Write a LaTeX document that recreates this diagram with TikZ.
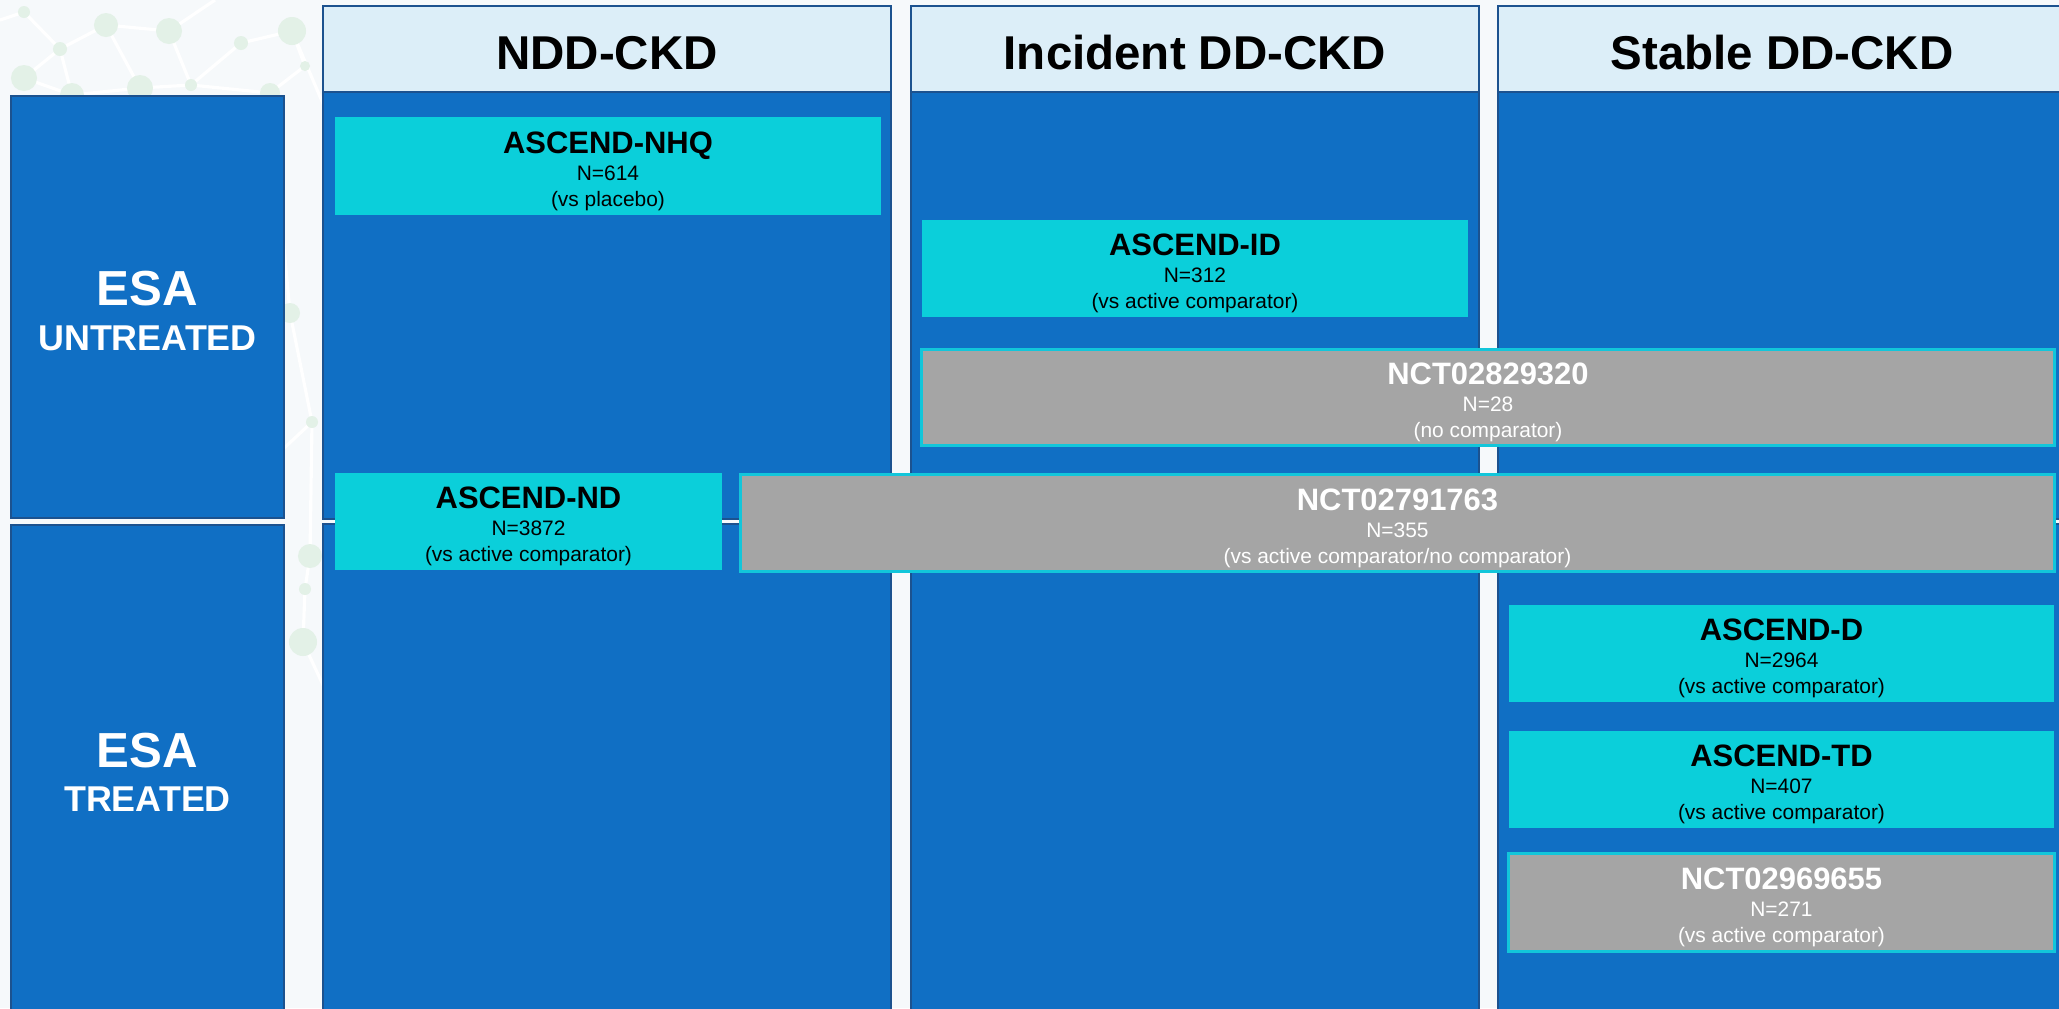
\documentclass[tikz,border=0pt]{standalone}
\usepackage{fontspec}
\setmainfont{Liberation Sans}
\definecolor{bgc}{HTML}{F6F9FB}
\definecolor{blu}{HTML}{106FC4}
\definecolor{bord}{HTML}{1C528F}
\definecolor{hdr}{HTML}{DCEEF8}
\definecolor{cyn}{HTML}{0BCFDA}
\definecolor{cynb}{HTML}{12C6DA}
\definecolor{gry}{HTML}{A5A5A5}
\definecolor{netdot}{HTML}{E3F1E7}
\definecolor{netln}{HTML}{FFFFFF}
\newcommand\study[9]{%
  \node[#6box, minimum width=#4cm, minimum height=#5cm] (#1) at (#2,#3) {};
  \node[#6txt, ttlfont, anchor=base] (#1-t) at (#2,{#3-13}) {#7};
  \node[#6txt, smlfont, anchor=base] (#1-n) at (#2,{#3+14}) {#8};
  \node[#6txt, smlfont, anchor=base] (#1-c) at (#2,{#3+40}) {#9};
}
\begin{document}
\begin{tikzpicture}[x=0.01cm,y=-0.01cm,
  hdrbox/.style={draw=bord, fill=hdr, line width=0.7pt, inner sep=0pt, outer sep=0pt},
  bodybox/.style={draw=bord, fill=blu, line width=0.7pt, inner sep=0pt, outer sep=0pt},
  cbox/.style={fill=cyn, draw=none, inner sep=0pt, outer sep=0pt},
  gbox/.style={fill=gry, draw=cynb, line width=0.85pt, inner sep=0pt, outer sep=0pt},
  ctxt/.style={text=black, inner sep=0pt},
  gtxt/.style={text=white, inner sep=0pt},
  ttlfont/.style={font=\fontsize{8.8}{10}\selectfont\bfseries},
  smlfont/.style={font=\fontsize{5.95}{7}\selectfont},
  hdrtxt/.style={text=black, inner sep=0pt, font=\fontsize{13.5}{16}\selectfont\bfseries},
  esabig/.style={text=white, inner sep=0pt, font=\fontsize{14}{16}\selectfont\bfseries},
  esasub/.style={text=white, inner sep=0pt, font=\fontsize{10.2}{12}\selectfont\bfseries},
  netline/.style={draw=netln, line width=0.9pt},
  netfill/.style={fill=netdot}
]
\useasboundingbox (0,0) rectangle (2059,1008);
\clip (0,0) rectangle (2059,1008);
\fill[bgc] (0,0) rectangle (2059,1008);

% faint network decoration
\coordinate (nA) at (24,12);   \coordinate (nB) at (106,25);
\coordinate (nC) at (169,31);  \coordinate (nD) at (60,49);
\coordinate (nE) at (241,43);  \coordinate (nF) at (292,31);
\coordinate (nG) at (305,66);  \coordinate (nH) at (24,78);
\coordinate (nI) at (140,88);  \coordinate (nJ) at (191,85);
\coordinate (nK) at (72,95);   \coordinate (nL) at (270,93);
\coordinate (nM) at (290,313); \coordinate (nN) at (312,422);
\coordinate (nO) at (310,556); \coordinate (nP) at (305,589);
\coordinate (nQ) at (303,642); \coordinate (nR) at (0,20);
\coordinate (nS) at (215,0);   \coordinate (nT) at (330,120);
\coordinate (nU) at (250,480); \coordinate (nV) at (330,700);
\draw[netline] (nA)--(nD)--(nB)--(nC)--(nJ)--(nI)--(nB)
  (nD)--(nH)--(nK)--(nI) (nD)--(nK) (nC)--(nS) (nE)--(nJ)--(nL)--(nG)--(nF)--(nE)
  (nA)--(nR) (nF)--(nT) (nL)--(nM)--(nN)--(nO)--(nP)--(nQ) (nN)--(nU) (nQ)--(nV);
\foreach \c/\r in {nA/0.06,nB/0.12,nC/0.13,nD/0.07,nE/0.07,nF/0.14,nG/0.05,nH/0.13,
  nI/0.13,nJ/0.06,nK/0.12,nL/0.10,nM/0.10,nN/0.06,nO/0.12,nP/0.06,nQ/0.14}
  \fill[netfill] (\c) circle[radius=\r cm];

% row labels
\node[bodybox, minimum width=2.73cm, minimum height=4.22cm] (esaU) at (147.5,307) {};
\node[bodybox, minimum width=2.73cm, minimum height=4.90cm] (esaT) at (147.5,770) {};
\node[esabig, anchor=base] (esaU-1) at (147.5,305.5) {ESA};
\node[esasub, anchor=base] (esaU-2) at (147.5,350) {UNTREATED};
\node[esabig, anchor=base] (esaT-1) at (147.5,767) {ESA};
\node[esasub, anchor=base] (esaT-2) at (147.5,811) {TREATED};

% columns
\foreach \n/\cx in {1/607,2/1195,3/1782}{
  \node[hdrbox, minimum width=5.68cm, minimum height=0.86cm] (h\n) at (\cx,49) {};
  \node[bodybox, minimum width=5.68cm, minimum height=4.27cm] (bu\n) at (\cx,305.5) {};
  \node[bodybox, minimum width=5.68cm, minimum height=4.91cm] (bl\n) at (\cx,769.5) {};
}
\node[hdrtxt, anchor=base] (h1-t) at (607,69) {NDD-CKD};
\node[hdrtxt, anchor=base] (h2-t) at (1195,69) {Incident DD-CKD};
\node[hdrtxt, anchor=base] (h3-t) at (1782,69) {Stable DD-CKD};

% studies
\study{nhq}{608}{166}{5.46}{0.98}{c}{ASCEND-NHQ}{N=614}{(vs placebo)}
\study{ascid}{1195}{268.5}{5.46}{0.97}{c}{ASCEND-ID}{N=312}{(vs active comparator)}
\study{nctA}{1488}{397.5}{11.32}{0.95}{g}{NCT02829320}{N=28}{(no comparator)}
\study{ascnd}{528.5}{521.5}{3.87}{0.97}{c}{ASCEND-ND}{N=3872}{(vs active comparator)}
\study{nctB}{1397.5}{523}{13.13}{0.96}{g}{NCT02791763}{N=355}{(vs active comparator/no comparator)}
\study{ascd}{1781.5}{653.5}{5.45}{0.97}{c}{ASCEND-D}{N=2964}{(vs active comparator)}
\study{asctd}{1781.5}{779.5}{5.45}{0.97}{c}{ASCEND-TD}{N=407}{(vs active comparator)}
\study{nctC}{1781.5}{902.5}{5.45}{0.97}{g}{NCT02969655}{N=271}{(vs active comparator)}
\end{tikzpicture}
\end{document}
